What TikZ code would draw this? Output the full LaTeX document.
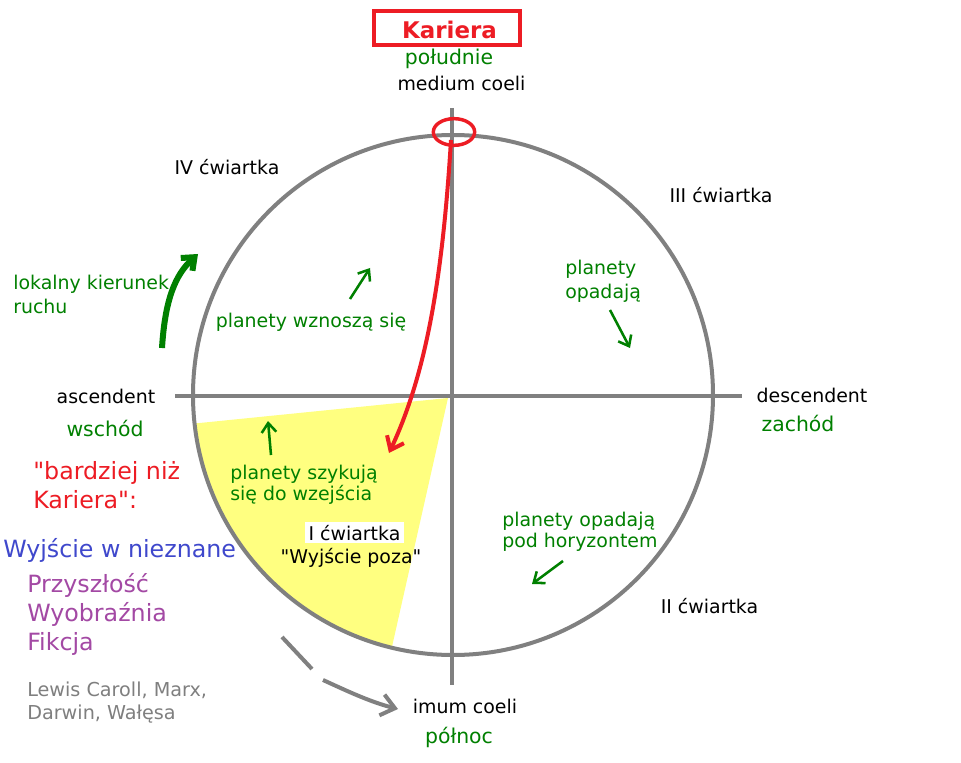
\documentclass[tikz,border=0pt]{standalone}
\usepackage{fontspec}
\setmainfont{DejaVu Sans}[Ligatures=TeXOff]
\usetikzlibrary{arrows.meta,shapes.geometric}
\definecolor{axgray}{HTML}{808080}
\definecolor{grn}{HTML}{008000}
\definecolor{rd}{HTML}{ED1C24}
\definecolor{bl}{HTML}{3F48CC}
\definecolor{pu}{HTML}{A349A4}
\definecolor{yl}{HTML}{FFFF80}
\definecolor{tgray}{HTML}{7F7F7F}
\begin{document}
\begin{tikzpicture}[x=0.75pt,y=-0.75pt,
  txt/.style={inner sep=0pt, font=\fontsize{14.2}{17}\selectfont},
  midtxt/.style={inner sep=0pt, font=\fontsize{15.3}{18}\selectfont},
  bigtxt/.style={inner sep=0pt, font=\fontsize{17.8}{21}\selectfont},
  smalltxt/.style={inner sep=0pt, font=\fontsize{14.4}{17}\selectfont},
  axisline/.style={axgray, line width=3pt},
  garrow/.style={grn, line width=1.9pt, -{Straight Barb[length=7pt,width=11pt]}},
]
\useasboundingbox (0,0) rectangle (961,763);
\fill[white] (0,0) rectangle (961,763);

% yellow sector
\begin{scope}
  \clip (453,395) circle[radius=260];
  \fill[yl] (448,398) -- (150,428) -- (150,740) -- (371,740) -- cycle;
\end{scope}

% circle and axes
\draw[axisline] (453,395) circle[radius=260];
\coordinate (vt) at (452,108);
\coordinate (vb) at (452,685);
\coordinate (hl) at (175,396);
\coordinate (hr) at (742,396);
\draw[axisline] (vt) -- (vb);
\draw[axisline] (hl) -- (hr);

% Kariera box
\node[draw=rd, line width=3pt, minimum width=109.5pt, minimum height=25.5pt, inner sep=0pt] (box) at (447,28) {};
\node[inner sep=0pt, anchor=base, text=rd, font=\fontsize{17.2}{20}\selectfont\bfseries] (kar) at (449.5,39) {Kariera};
\node[midtxt, anchor=base, text=grn] (pol) at (449,65) {południe};
\node[txt, anchor=base] (mc) at (461.5,91) {medium coeli};

% red marker and arrow
\node[draw=rd, line width=2.6pt, ellipse, minimum width=31pt, minimum height=20pt, inner sep=0pt] (mark) at (454,132) {};
\coordinate (rstart) at (451,140);
\coordinate (rend) at (389,453);
\draw[rd, line width=3pt, -{Straight Barb[length=9pt,width=14pt]}] (rstart) .. controls (443,270) and (428,370) .. (rend);

% quarter labels
\node[txt, anchor=base] (q4) at (227,175) {IV ćwiartka};
\node[txt, anchor=base] (q3) at (721,203) {III ćwiartka};
\node[txt, anchor=base] (q2) at (709.5,613) {II ćwiartka};
\node[txt, anchor=base, fill=white, inner xsep=3pt, inner ysep=2pt] (q1) at (354.5,540) {I ćwiartka};
\node[txt, anchor=base] (q1b) at (351,563) {"Wyjście poza"};

% axis labels
\node[txt, anchor=base] (asc) at (106,403) {ascendent};
\node[txt, anchor=base] (desc) at (812,402) {descendent};
\node[midtxt, anchor=base, text=grn] (wsch) at (105,436) {wschód};
\node[midtxt, anchor=base, text=grn] (zach) at (798,431) {zachód};
\node[txt, anchor=base] (ic) at (465,713) {imum coeli};
\node[midtxt, anchor=base, text=grn] (pln) at (459,743) {północ};

% green texts
\node[txt, anchor=base west, text=grn] (lk1) at (13,290) {lokalny kierunek};
\node[txt, anchor=base west, text=grn] (lk2) at (13,313) {ruchu};
\node[txt, anchor=base, text=grn] (wzn) at (311,327) {planety wznoszą się};
\node[txt, anchor=base west, text=grn] (op1) at (565,275) {planety};
\node[txt, anchor=base west, text=grn] (op2) at (565,298) {opadają};
\node[txt, anchor=base west, text=grn] (sz1) at (230,479) {planety szykują};
\node[txt, anchor=base west, text=grn] (sz2) at (230,500) {się do wzejścia};
\node[txt, anchor=base west, text=grn] (ph1) at (502,526) {planety opadają};
\node[txt, anchor=base west, text=grn] (ph2) at (502,547) {pod horyzontem};

% green arrows
\coordinate (la1) at (162,348);
\coordinate (la2) at (198,254);
\draw[grn, line width=4.5pt, -{Straight Barb[length=8pt,width=13pt]}] (la1) .. controls (165,300) and (175,275) .. (la2);
\coordinate (a1s) at (350,299); \coordinate (a1e) at (370,268);
\draw[garrow] (a1s) -- (a1e);
\coordinate (a2s) at (271,455); \coordinate (a2e) at (268,421);
\draw[garrow] (a2s) -- (a2e);
\coordinate (a3s) at (610,310); \coordinate (a3e) at (630,348);
\draw[garrow] (a3s) -- (a3e);
\coordinate (a4s) at (563,561); \coordinate (a4e) at (532,584);
\draw[garrow] (a4s) -- (a4e);

% left texts
\node[bigtxt, anchor=base west, text=rd] (bn1) at (33,479) {"bardziej niż};
\node[bigtxt, anchor=base west, text=rd] (bn2) at (33,508) {Kariera":};
\node[bigtxt, anchor=base west, text=bl] (wn) at (3,557) {Wyjście w nieznane};
\node[bigtxt, anchor=base west, text=pu] (p1) at (27,592) {Przyszłość};
\node[bigtxt, anchor=base west, text=pu] (p2) at (27,621) {Wyobraźnia};
\node[bigtxt, anchor=base west, text=pu] (p3) at (27,650) {Fikcja};
\node[smalltxt, anchor=base west, text=tgray] (lc1) at (27,696) {Lewis Caroll, Marx,};
\node[smalltxt, anchor=base west, text=tgray] (lc2) at (27,719) {Darwin, Wałęsa};

% gray arrow
\coordinate (g1) at (282,637);
\coordinate (g2) at (312,669);
\coordinate (g3) at (323,680);
\coordinate (g4) at (398,709);
\draw[axisline] (g1) -- (g2);
\draw[axisline, -{Straight Barb[length=10pt,width=16pt]}] (g3) .. controls (345,690) and (370,702) .. (g4);
\end{tikzpicture}
\end{document}
